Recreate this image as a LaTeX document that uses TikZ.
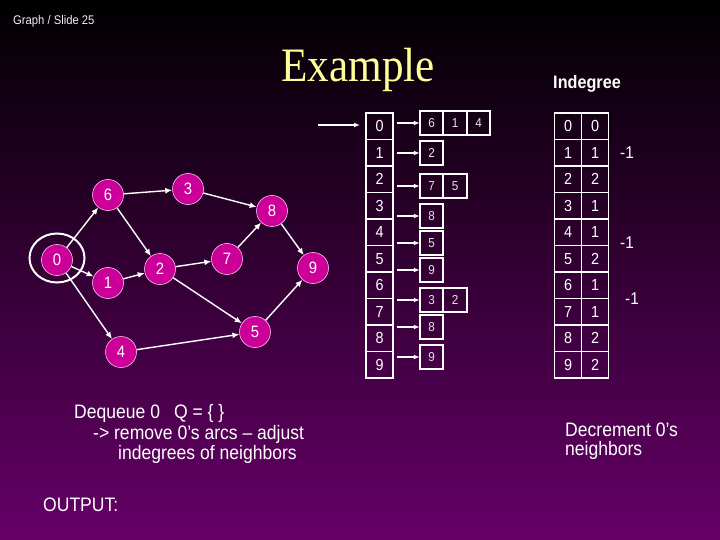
\documentclass[tikz,border=0pt]{standalone}
\usepackage{fontspec}
\setmainfont{Liberation Sans}[FakeStretch=0.9]
\newfontfamily\titlefont{Liberation Serif}[FakeStretch=0.9]
\usetikzlibrary{arrows.meta,positioning,shapes.geometric}
\definecolor{SlidePurple}{HTML}{660068}
\definecolor{NodeMagenta}{HTML}{CC0099}
\definecolor{TitleYellow}{HTML}{FFFF99}
\definecolor{ListGrey}{HTML}{E8E0E8}

\begin{document}
\begin{tikzpicture}[x=1pt,y=-1pt,>={Latex[length=6pt,width=5pt]},
    vtx/.style={circle,fill=NodeMagenta,draw=white!75!NodeMagenta,line width=0.6pt,minimum size=31,inner sep=0pt,text=white,font=\fontsize{16.5}{16.5}\selectfont},
    link/.style={-{Latex[length=7pt,width=6pt]},white,line width=1.4pt},
    slot/.style={draw=white,line width=1.6pt,outer sep=0pt,minimum width=27,minimum height=26.5,inner sep=0pt,text=white,font=\fontsize{16}{16}\selectfont},
    cell/.style={draw=white,line width=1.6pt,outer sep=0pt,minimum width=23.5,minimum height=24,inner sep=0pt,text=ListGrey,font=\fontsize{13}{13}\selectfont},
    ptr/.style={->,white,line width=1.2pt},
    txt/.style={text=white,inner sep=0pt,anchor=base west,font=\fontsize{19.5}{21}\selectfont}]
    \useasboundingbox (0,0) rectangle (720,540);
    \shade[top color=black,bottom color=SlidePurple] (0,0) rectangle (720,540);

    \node[anchor=base west,inner sep=0pt,text=white!88!gray,font=\fontsize{12.5}{12.5}\selectfont] (hdr) at (13,25) {Graph / Slide 25};
    \node[anchor=base,inner sep=0pt,text=TitleYellow,font=\titlefont\fontsize{48}{48}\selectfont] (ttl) at (358,82) {Example};
    \node[anchor=base,inner sep=0pt,text=white,font=\bfseries\fontsize{18}{18}\selectfont] (indeg) at (587,89) {Indegree};

    \node[vtx] (v0) at (57,260) {0};
    \node[vtx] (v6) at (108,195) {6};
    \node[vtx] (v3) at (188,189) {3};
    \node[vtx] (v8) at (272,211) {8};
    \node[vtx] (v1) at (108,283) {1};
    \node[vtx] (v2) at (160,269) {2};
    \node[vtx] (v7) at (227,259) {7};
    \node[vtx] (v9) at (313,268) {9};
    \node[vtx] (v4) at (121,352) {4};
    \node[vtx] (v5) at (255,332) {5};
    \node[ellipse,draw=white,line width=2pt,minimum width=55,minimum height=49] (ring) at (57,258) {};
    \draw[link] (v0) -- (v6);
    \draw[link] (v0) -- (v1);
    \draw[link] (v0) -- (v4);
    \draw[link] (v6) -- (v3);
    \draw[link] (v6) -- (v2);
    \draw[link] (v1) -- (v2);
    \draw[link] (v3) -- (v8);
    \draw[link] (v2) -- (v7);
    \draw[link] (v2) -- (v5);
    \draw[link] (v7) -- (v8);
    \draw[link] (v8) -- (v9);
    \draw[link] (v4) -- (v5);
    \draw[link] (v5) -- (v9);

    \foreach \i in {0,...,9}
      \node[slot] (idx\i) at (379.5,{126.25+26.5*\i}) {\i};
    \coordinate (entry) at (318,125);
    \draw[ptr] (entry) -- ([xshift=-6pt]idx0.west |- entry);

    \node[cell] (h0) at (431.5,123) {6};
    \node[cell,right=0pt of h0] (h0b) {1};
    \node[cell,right=0pt of h0b] (h0c) {4};
    \node[cell] (h1) at (431.5,153) {2};
    \node[cell] (h2) at (431.5,186) {7};
    \node[cell,right=0pt of h2] (h2b) {5};
    \node[cell] (h3) at (431.5,216) {8};
    \node[cell] (h4) at (431.5,243) {5};
    \node[cell] (h5) at (431.5,270) {9};
    \node[cell] (h6) at (431.5,300) {3};
    \node[cell,right=0pt of h6] (h6b) {2};
    \node[cell] (h7) at (431.5,327) {8};
    \node[cell] (h8) at (431.5,357) {9};
    \foreach \r in {0,...,8}
      \draw[ptr] ([xshift=4pt]idx0.east |- h\r.west) -- (h\r.west);

    \foreach \i/\d in {0/0,1/1,2/2,3/1,4/1,5/2,6/1,7/1,8/2,9/2} {
      \node[slot] (key\i) at (568,{126.25+26.5*\i}) {\i};
      \node[slot,right=0pt of key\i] (deg\i) {\d};
    }
    \node[txt,font=\fontsize{17}{17}\selectfont] (dec1) at (620,159) {-1};
    \node[txt,font=\fontsize{17}{17}\selectfont] (dec4) at (620,248) {-1};
    \node[txt,font=\fontsize{17}{17}\selectfont] (dec6) at (625,304) {-1};

    \node[txt] (deq) at (74,418) {Dequeue 0\hspace{14pt}Q = \{ \}};
    \node[txt] (rm) at (93,439) {-> remove 0's arcs -- adjust};
    \node[txt] (nbr) at (118,459) {indegrees of neighbors};
    \node[txt] (outp) at (43,511) {OUTPUT:};
    \node[txt] (decr) at (565,436) {Decrement 0's};
    \node[txt] (decr2) at (565,455) {neighbors};
  \end{tikzpicture}
\end{document}
